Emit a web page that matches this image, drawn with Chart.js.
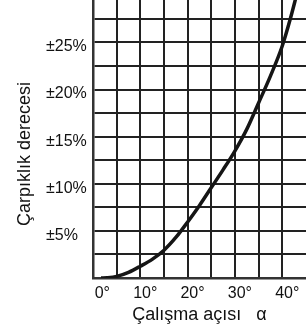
<!DOCTYPE html>
<html>
<head>
<meta charset="utf-8">
<script src="https://cdn.jsdelivr.net/npm/chart.js@4"></script>
<style>
  html, body { margin: 0; padding: 0; background: #fff; }
  #wrap { width: 306px; height: 333px; }
</style>
</head>
<body>
<div id="wrap"><canvas id="skew-chart"></canvas></div>
<script>
// curve: angle (deg) -> skew (%)
const angles = [1.7, 3, 5, 7.5, 10, 12.5, 15, 17.5, 20, 22.5, 25, 27.5, 30, 32.5, 35, 37.5, 40, 41.6, 43.2];
const skewPercent = [0, 0.03, 0.17, 0.6, 1.25, 1.98, 2.95, 4.3, 5.95, 7.7, 9.6, 11.5, 13.5, 15.8, 18.6, 21.45, 24.65, 27.35, 30.4];

const angleLabels = [0, 10, 20, 30, 40];
const skewLabels = [5, 10, 15, 20, 25];

const xTitle = 'Çalışma açısı   α';
const yTitle = 'Çarpıklık derecesi';

const FONT = "'Liberation Sans', Arial, sans-serif";
const INK = '#111';
const GRID = '#222';

const noPadding = s => {
    s.paddingTop = 0;
    s.paddingBottom = 0;
    s.paddingLeft = 0;
    s.paddingRight = 0;
};

const points = angles.map((a, i) => ({ x: a, y: skewPercent[i] }));

const CHART = document.getElementById('skew-chart');
const skewChart = new Chart(CHART, {
    type: 'line',
    data: {
        datasets: [{
            data: points,
            borderColor: '#151515',
            borderWidth: 3.5,
            pointRadius: 0,
            fill: false,
            cubicInterpolationMode: 'monotone'
        }]
    },
    options: {
        responsive: true,
        maintainAspectRatio: false,
        animation: false,
        layout: { padding: 0 },
        plugins: {
            legend: { display: false },
            tooltip: { enabled: false }
        },
        scales: {
            x: {
                type: 'linear',
                min: 0,
                max: 45,
                grid: { color: GRID, lineWidth: 2, drawTicks: false },
                border: { color: '#333', width: 2.5 },
                ticks: {
                    stepSize: 5,
                    autoSkip: false,
                    maxRotation: 0,
                    align: 'end',
                    labelOffset: 17,
                    padding: 6,
                    color: INK,
                    font: { family: FONT, size: 16 },
                    callback: v => angleLabels.includes(v) ? v + '°' : ''
                },
                title: {
                    display: true,
                    text: xTitle,
                    color: INK,
                    font: { family: FONT, size: 18 },
                    padding: { top: 0, bottom: 7 }
                },
                afterBuildTicks: s => { s.ticks = s.ticks.filter(t => t.value < 45); },
                afterFit: s => { s.height = 55; noPadding(s); }
            },
            y: {
                type: 'linear',
                position: 'left',
                weight: 0,
                min: 0,
                max: 29.5,
                grid: { color: GRID, lineWidth: 2, drawTicks: false },
                border: { color: '#333', width: 2.5 },
                ticks: {
                    stepSize: 2.5,
                    autoSkip: false,
                    crossAlign: 'far',
                    labelOffset: 4.5,
                    color: INK,
                    font: { family: FONT, size: 16 },
                    callback: v => skewLabels.includes(v) ? '±' + v + '%' : ''
                },
                afterBuildTicks: s => { s.ticks = s.ticks.filter(t => t.value % 2.5 === 0); },
                afterFit: s => { s.width = 47; noPadding(s); }
            },
            yTitle: {
                type: 'linear',
                axis: 'y',
                position: 'left',
                weight: 1,
                grid: { display: false },
                border: { display: false },
                ticks: { display: false },
                title: {
                    display: true,
                    text: yTitle + '      ',
                    color: INK,
                    font: { family: FONT, size: 18 },
                    padding: { top: 14, bottom: 0 }
                },
                afterFit: s => { s.width = 46; noPadding(s); }
            }
        }
    }
});
</script>
</body>
</html>
